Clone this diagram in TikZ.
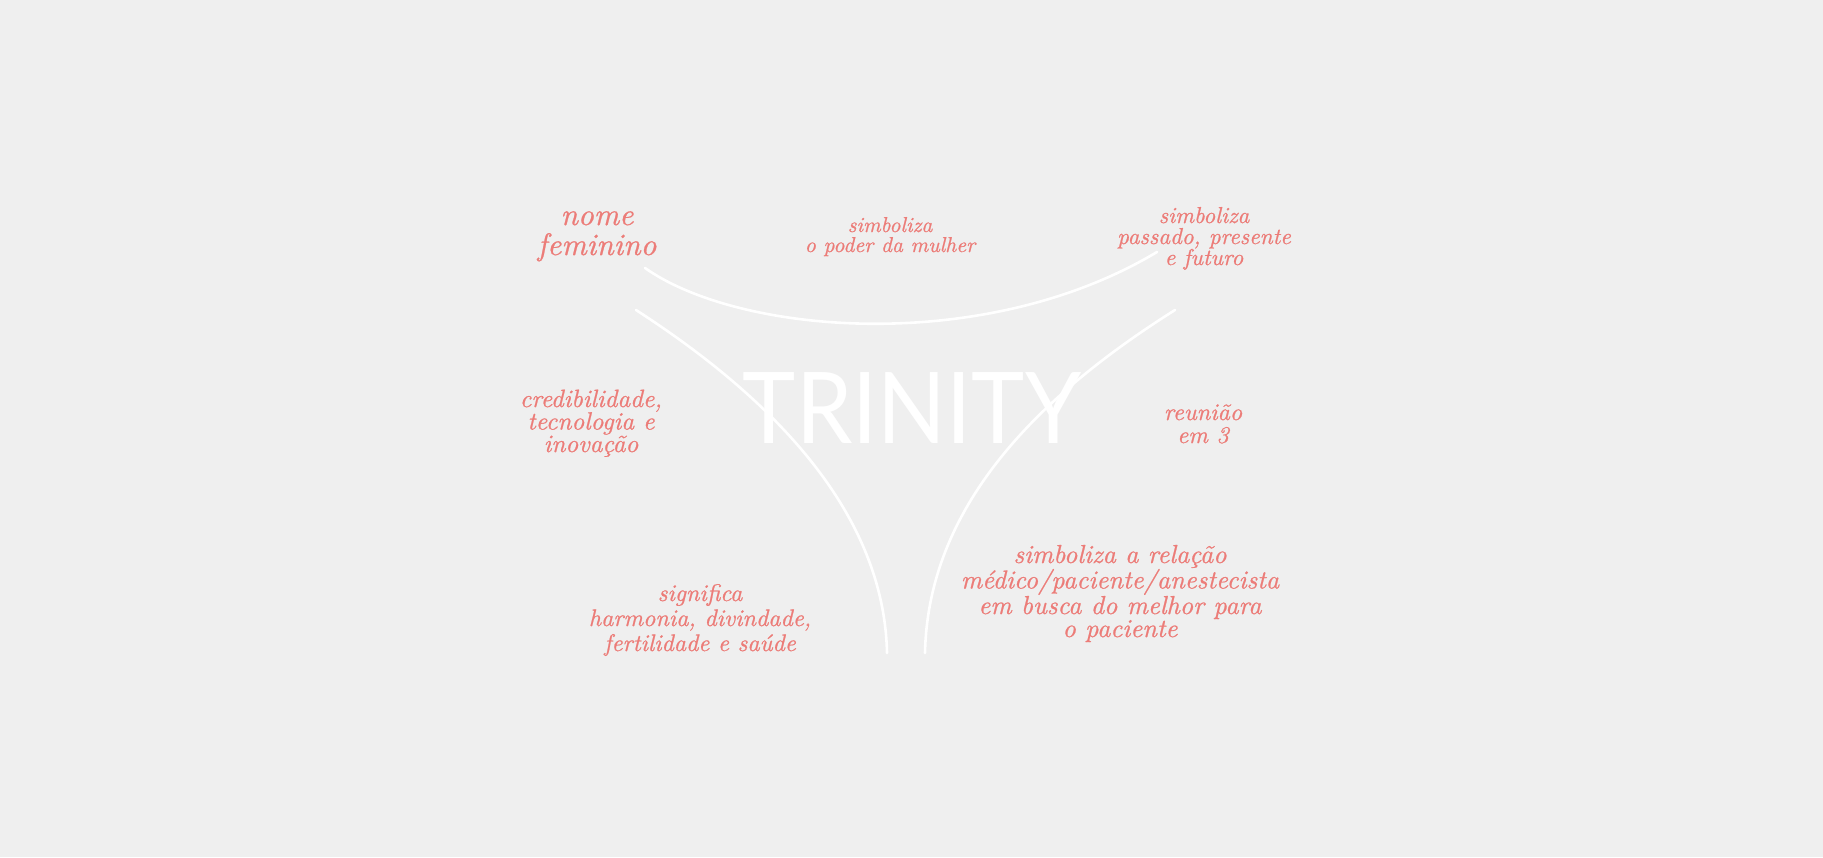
\documentclass[tikz,border=0pt]{standalone}
\usepackage{fontspec}
\newfontfamily\titlefont{Lato}
\newfontfamily\notefont[FakeBold=0.8]{lmroman10-italic.otf}
\definecolor{bgc}{RGB}{239,239,239}
\definecolor{salmon}{RGB}{236,124,120}
\tikzset{
  note/.style={text=salmon, align=center, anchor=base, inner sep=0pt,
    font=\notefont\fontsize{22}{23}\selectfont},
  bignote/.style={note, font=\notefont\fontsize{31}{30}\selectfont},
  arcline/.style={draw=white, line width=2.6pt, line cap=round},
}
\begin{document}
\begin{tikzpicture}[x=1pt,y=-1pt]
\fill[bgc] (0,0) rectangle (1823,857);
\useasboundingbox (0,0) rectangle (1823,857);
% curves
\coordinate (a1) at (645,268);
\coordinate (a2) at (1157,252);
\coordinate (l1) at (636,310);
\coordinate (l2) at (887,653);
\coordinate (r1) at (1175,310);
\coordinate (r2) at (925,653);
\draw[arcline] (a1) .. controls (740,335) and (985,355) .. (a2);
\draw[arcline] (l1) .. controls (760,390) and (884,505) .. (l2);
\draw[arcline] (r1) .. controls (1040,395) and (928,505) .. (r2);
% title
\node[text=white, anchor=base, inner sep=0pt, xscale=0.91, font=\titlefont\fontsize{99}{99}\selectfont] (title) at (912,443) {TRINITY};
% notes (anchored at the baseline of their last line)
\node[bignote] (nome) at (597,255) {nome\\feminino};
\node[note, font=\notefont\fontsize{21.5}{20}\selectfont] (poder) at (890,252) {simboliza\\o poder da mulher};
\node[note, font=\notefont\fontsize{23}{21}\selectfont] (tempo) at (1204,265) {simboliza\\passado, presente\\e futuro};
\node[note, font=\notefont\fontsize{25}{22.5}\selectfont] (cred) at (591,452) {credibilidade,\\tecnologia e\\inovação};
\node[note, font=\notefont\fontsize{24}{23}\selectfont] (reun) at (1203,443) {reunião\\em 3};
\node[note, font=\notefont\fontsize{24}{25}\selectfont] (sign) at (700,651) {significa\\harmonia, divindade,\\fertilidade e saúde};
\node[note, font=\notefont\fontsize{26}{23}\selectfont] (rel) at (1120,637) {simboliza a relação\\médico/paciente/anestecista\\em busca do melhor para\\o paciente};
\end{tikzpicture}
\end{document}
